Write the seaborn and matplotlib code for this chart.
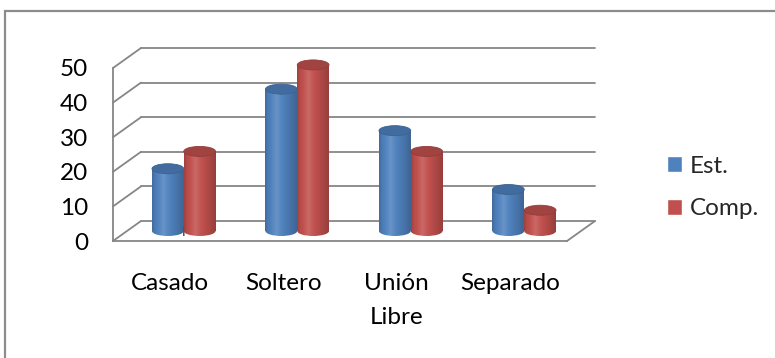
import numpy as np
import pandas as pd
import matplotlib
matplotlib.use("Agg")
import matplotlib.pyplot as plt
import matplotlib.transforms as mtransforms
from matplotlib.patches import Ellipse, Rectangle
from matplotlib.lines import Line2D
from matplotlib.colors import to_rgb
import seaborn as sns

# --- data ---------------------------------------------------------------
categorias = ["Casado", "Soltero", "Unión\nLibre", "Separado"]
series = ["Est.", "Comp."]
est = [18, 41, 29, 12]
comp = [23, 48, 23, 6]
colores = ["#4F81BD", "#C0504D"]
yticks = [0, 10, 20, 30, 40, 50]

df = pd.DataFrame({
    "estado": categorias * 2,
    "grupo": [series[0]] * len(categorias) + [series[1]] * len(categorias),
    "valor": est + comp,
})

# --- style --------------------------------------------------------------
sns.set_theme(style="white")
plt.rcParams["font.family"] = ["Lato", "DejaVu Sans"]

DPI = 100
GRID = "#868686"
FS = 17.5

fig = plt.figure(figsize=(7.75, 3.58), dpi=DPI)
ax = fig.add_axes([113 / 775, 117 / 358, 454 / 775, 173 / 358])
ax.set_facecolor("none")

sns.barplot(data=df, x="estado", y="valor", hue="grupo", hue_order=series,
            palette=colores, width=0.56, gap=0, saturation=1,
            errorbar=None, ax=ax)

ax.set_xlim(-0.5, 3.5)
ax.set_ylim(0, 50)
ax.set_yticks(yticks)
ax.set_xlabel("")
ax.set_ylabel("")
sns.despine(ax=ax)
for side in ("left", "bottom"):
    ax.spines[side].set_color(GRID)
    ax.spines[side].set_linewidth(1.3)
ax.tick_params(axis="both", color=GRID, width=1.3, length=6,
               labelcolor="black", labelsize=FS)
ax.tick_params(axis="x", pad=17)
ax.tick_params(axis="y", pad=12)
for lab in ax.get_xticklabels():
    lab.set_linespacing(1.75)

# --- pseudo 3-D frame: depth offset in pixels ----------------------------
DX, DY = 28, 20
tr_back = ax.transData + mtransforms.ScaledTranslation(DX / DPI, DY / DPI, fig.dpi_scale_trans)
tr_mid = ax.transData + mtransforms.ScaledTranslation(DX / 2 / DPI, DY / 2 / DPI, fig.dpi_scale_trans)

x_lo, x_hi = ax.get_xlim()
for v in yticks:
    # back wall gridline
    ax.add_line(Line2D([x_lo, x_hi], [v, v], transform=tr_back, color=GRID,
                       lw=1.3, clip_on=False, zorder=1))
    # side wall diagonal
    ax.add_line(Line2D([0, DX / DPI], [0, DY / DPI],
                       transform=fig.dpi_scale_trans + mtransforms.ScaledTranslation(x_lo, v, ax.transData),
                       color=GRID, lw=1.3, clip_on=False, zorder=1))
# floor, right edge
ax.add_line(Line2D([0, DX / DPI], [0, DY / DPI],
                   transform=fig.dpi_scale_trans + mtransforms.ScaledTranslation(x_hi, 0, ax.transData),
                   color=GRID, lw=1.3, clip_on=False, zorder=1))

# --- cylinders -------------------------------------------------------------
def shade(base, f):
    f = np.atleast_1d(f)[:, None]
    light = base + (1 - base) * np.clip(f - 1, 0, 1) * 1.6
    dark = base * np.clip(f, 0, 1)
    return np.where(f >= 1, light, dark)

t = np.linspace(0, 1, 120)
profile = np.interp(t, [0, 0.1, 0.36, 0.72, 1], [0.82, 0.96, 1.09, 0.93, 0.78])

px_per_unit = ax.transData.transform((0, 1))[1] - ax.transData.transform((0, 0))[1]
EH = 10 / px_per_unit  # ellipse height in data units

bars = [p for p in ax.patches if isinstance(p, Rectangle)]
for p in bars:
    base = np.array(to_rgb(p.get_facecolor()))
    k = int(np.argmin([np.abs(base - np.array(to_rgb(c))).sum() for c in colores]))
    z = 3 + 2 * k
    x0, w, h = p.get_x(), p.get_width(), p.get_height()
    cx = x0 + w / 2
    p.set_transform(tr_mid)
    p.set_edgecolor("none")
    p.set_zorder(z)
    p.set_clip_on(False)

    grad = shade(base, profile)[None, :, :]

    # rounded base of the cylinder
    foot = Ellipse((cx, 0), w, EH, transform=tr_mid, facecolor="none",
                   edgecolor="none", clip_on=False)
    ax.add_patch(foot)
    im = ax.imshow(grad, extent=(x0, x0 + w, -EH / 2, 0), aspect="auto",
                   transform=tr_mid, zorder=z + 0.1, interpolation="bilinear")
    im.set_clip_path(foot)

    # body
    im = ax.imshow(grad, extent=(x0, x0 + w, 0, h), aspect="auto",
                   transform=tr_mid, zorder=z + 0.2, interpolation="bilinear")
    im.set_clip_path(p)

    # lid
    top = shade(base, [0.84])[0]
    ax.add_patch(Ellipse((cx, h), w, EH, transform=tr_mid, facecolor=top,
                         edgecolor=shade(base, [0.76])[0], lw=0.6,
                         zorder=z + 0.3, clip_on=False))

ax.set_xlim(x_lo, x_hi)
ax.set_ylim(0, 50)

# --- legend ------------------------------------------------------------------
handles = ax.get_legend().legend_handles
labels = [t_.get_text() for t_ in ax.get_legend().get_texts()]
ax.legend(handles, labels, loc="center left", bbox_to_anchor=(667 / 775, 0.4763),
          bbox_transform=fig.transFigure, frameon=False, fontsize=FS,
          handlelength=0.6, handleheight=0.6, handletextpad=0.35,
          labelspacing=0.9, borderpad=0, borderaxespad=0)

# outer chart frame
fig.add_artist(Rectangle((5 / 775, -0.05), 1.2, (358 - 11) / 358 + 0.05,
                         transform=fig.transFigure, fill=False,
                         edgecolor="#8c8c8c", lw=1.6))

fig.savefig("out.png", dpi=DPI)
